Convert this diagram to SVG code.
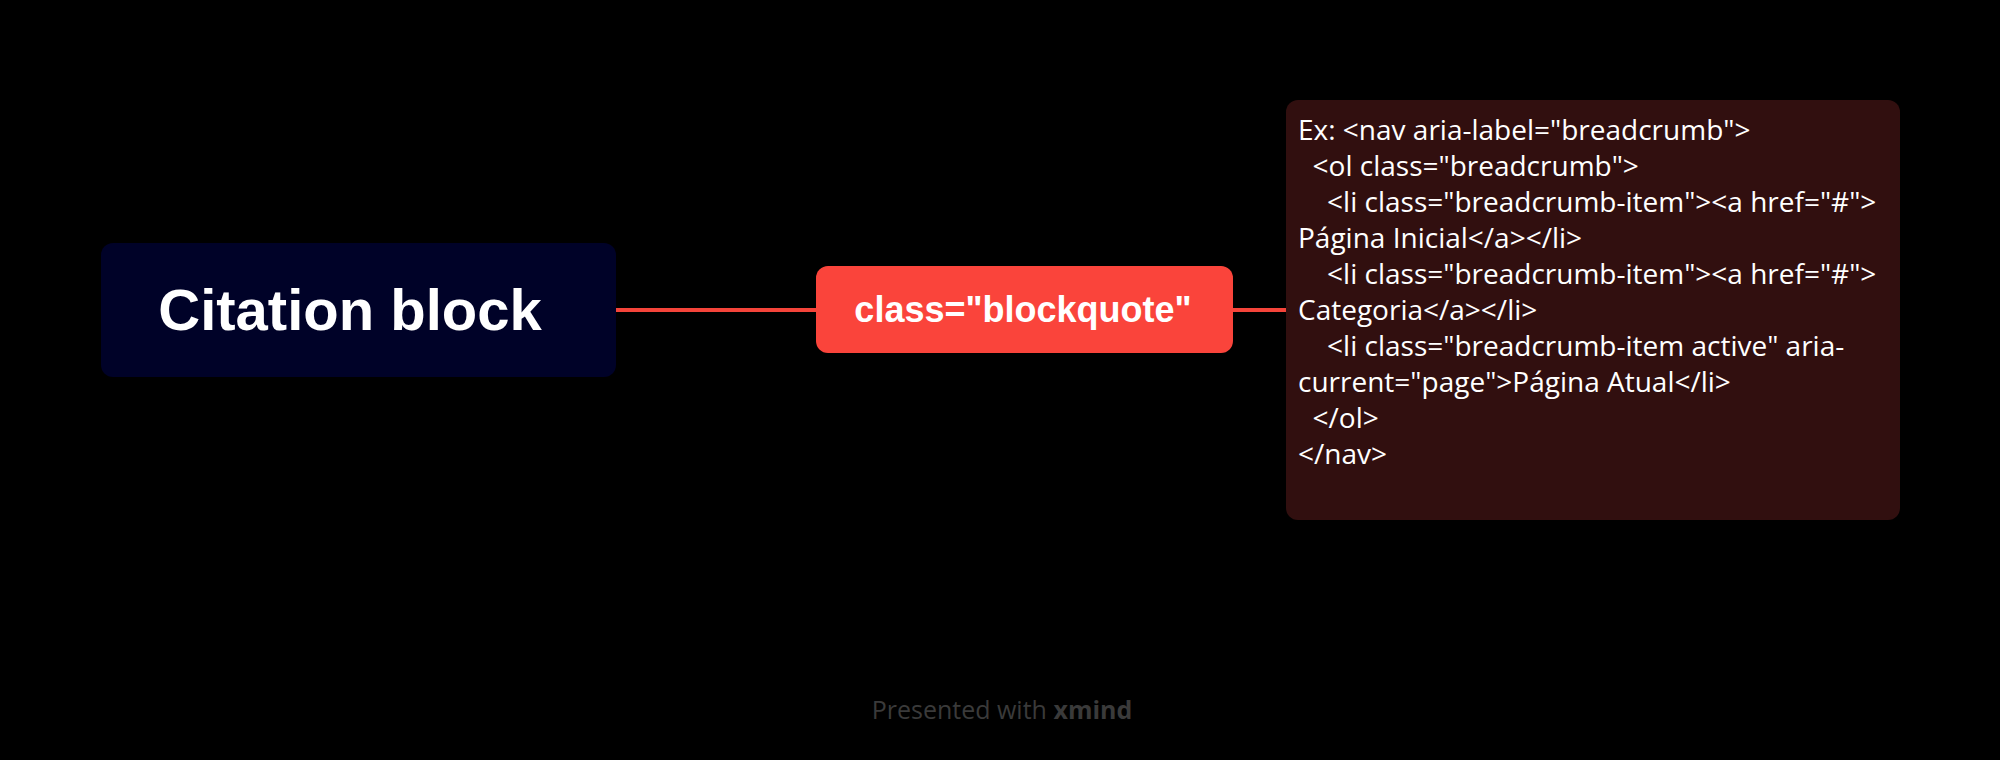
<svg xmlns="http://www.w3.org/2000/svg" width="2000" height="760" viewBox="0 0 2000 760">
  <style>
    .conn { stroke: #F5443A; stroke-width: 4; fill: none; }
    .main-text { font-family: "Liberation Sans", Arial, sans-serif; font-weight: bold; fill: #FFFFFF; }
    .code { font-family: "Open Sans", "Liberation Sans", sans-serif; font-size: 28px; fill: #FFFFFF; }
    .footer { font-family: "Open Sans", "Liberation Sans", sans-serif; font-size: 25px; fill: #3A3A3A; }
  </style>
  <rect x="0" y="0" width="2000" height="760" fill="#000000"/>
  <g id="connectors">
    <line class="conn" x1="616" y1="310" x2="816" y2="310"/>
    <line class="conn" x1="1233" y1="310" x2="1286" y2="310"/>
  </g>
  <g id="node-citation">
    <rect x="101" y="243" width="515" height="134" rx="12" fill="#000228"/>
    <text class="main-text" x="350" y="330" font-size="58" text-anchor="middle">Citation block</text>
  </g>
  <g id="node-blockquote">
    <rect x="816" y="266" width="417" height="87" rx="12" fill="#FA443B"/>
    <text class="main-text" x="1023" y="322" font-size="36" text-anchor="middle">class="blockquote"</text>
  </g>
  <g id="node-example">
    <rect x="1286" y="100" width="614" height="420" rx="12" fill="#310F0F"/>
    <text class="code" xml:space="preserve">
      <tspan x="1298" y="140">Ex: &lt;nav aria-label="breadcrumb"&gt;</tspan>
      <tspan x="1298" y="176">  &lt;ol class="breadcrumb"&gt;</tspan>
      <tspan x="1298" y="212">    &lt;li class="breadcrumb-item"&gt;&lt;a href="#"&gt;</tspan>
      <tspan x="1298" y="248">Página Inicial&lt;/a&gt;&lt;/li&gt;</tspan>
      <tspan x="1298" y="284">    &lt;li class="breadcrumb-item"&gt;&lt;a href="#"&gt;</tspan>
      <tspan x="1298" y="320">Categoria&lt;/a&gt;&lt;/li&gt;</tspan>
      <tspan x="1298" y="356">    &lt;li class="breadcrumb-item active" aria-</tspan>
      <tspan x="1298" y="392">current="page"&gt;Página Atual&lt;/li&gt;</tspan>
      <tspan x="1298" y="428">  &lt;/ol&gt;</tspan>
      <tspan x="1298" y="464">&lt;/nav&gt;</tspan>
    </text>
  </g>
  <text class="footer" x="1002" y="719" text-anchor="middle">Presented with <tspan font-weight="bold">xmind</tspan></text>
</svg>
